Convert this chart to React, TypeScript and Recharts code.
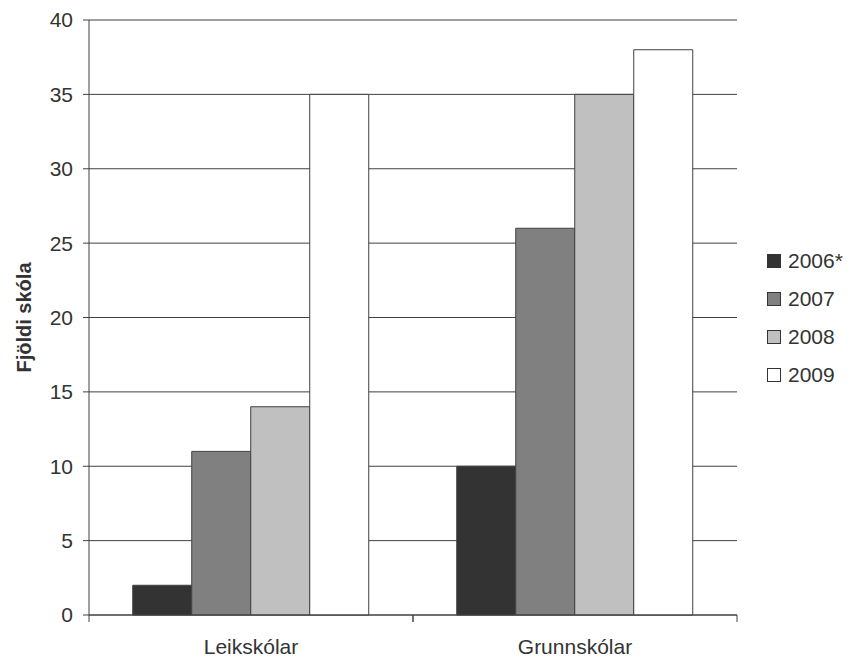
import { BarChart, Bar, XAxis, YAxis, CartesianGrid } from 'recharts';

const categories = ['Leikskólar', 'Grunnskólar'];
const years = ['2006*', '2007', '2008', '2009'];
const values2006 = [2, 10];
const values2007 = [11, 26];
const values2008 = [14, 35];
const values2009 = [35, 38];
const yTicks = [0, 5, 10, 15, 20, 25, 30, 35, 40];

const fills = ['#333333', '#808080', '#c0c0c0', '#ffffff'];
const seriesKeys = ['y2006', 'y2007', 'y2008', 'y2009'];

const data = categories.map((name, i) => ({
  name,
  y2006: values2006[i],
  y2007: values2007[i],
  y2008: values2008[i],
  y2009: values2009[i],
}));

const W = 858;
const H = 658;
const margin = { top: 20, right: 121, left: 0, bottom: 0 };
const yAxisWidth = 89;
const band = (W - margin.left - margin.right - yAxisWidth) / categories.length;
const font = '"Liberation Sans", Arial, sans-serif';
const ink = '#333333';
const line = '#404040';

function CategoryTick({ x, y, payload }: any) {
  return (
    <g>
      <line x1={x - band / 2} x2={x - band / 2} y1={y} y2={y + 7} stroke={line} />
      <line x1={x + band / 2} x2={x + band / 2} y1={y} y2={y + 7} stroke={line} />
      <text x={x} y={y + 39} textAnchor="middle" fill={ink} fontSize={21} fontFamily={font}>
        {payload.value}
      </text>
    </g>
  );
}

// legend sits outside the chart so it does not eat into the plot area
function YearLegend() {
  return (
    <div
      style={{
        position: 'absolute',
        left: 767,
        top: 242,
        fontFamily: font,
        fontSize: 21,
        color: ink,
      }}
    >
      {years.map((yr, i) => (
        <div key={yr} style={{ display: 'flex', alignItems: 'center', height: 38 }}>
          <span
            style={{
              display: 'inline-block',
              width: 12,
              height: 12,
              background: fills[i],
              border: `1px solid ${ink}`,
              marginRight: 7,
            }}
          />
          <span>{yr}</span>
        </div>
      ))}
    </div>
  );
}

export default function App() {
  return (
    <div style={{ position: 'absolute', left: 0, top: 0, width: W, height: H, background: '#fff' }}>
      <BarChart
        width={W}
        height={H}
        data={data}
        margin={margin}
        barCategoryGap="13.5%"
        barGap={0}
      >
        <CartesianGrid vertical={false} stroke={line} strokeWidth={1} />
        <XAxis
          dataKey="name"
          height={43}
          tickLine={false}
          tickSize={0}
          tickMargin={0}
          axisLine={{ stroke: line }}
          tick={<CategoryTick />}
          interval={0}
        />
        <YAxis
          width={yAxisWidth}
          domain={[0, 40]}
          ticks={yTicks}
          interval={0}
          tickSize={6}
          tickMargin={10}
          axisLine={{ stroke: line }}
          tickLine={{ stroke: line }}
          tick={{ fill: ink, fontSize: 21, fontFamily: font }}
          label={{
            content: ({ viewBox }: any) => {
              const cx = viewBox.x + 24;
              const cy = viewBox.y + viewBox.height / 2;
              return (
                <text
                  x={cx}
                  y={cy}
                  transform={`rotate(-90, ${cx}, ${cy})`}
                  textAnchor="middle"
                  dominantBaseline="central"
                  fontWeight="bold"
                  fontSize={20}
                  fontFamily={font}
                  fill={ink}
                >
                  Fjöldi skóla
                </text>
              );
            },
          }}
        />
        {seriesKeys.map((k, i) => (
          <Bar
            key={k}
            dataKey={k}
            name={years[i]}
            fill={fills[i]}
            stroke={line}
            strokeWidth={1}
            isAnimationActive={false}
          />
        ))}
      </BarChart>
      <YearLegend />
    </div>
  );
}
